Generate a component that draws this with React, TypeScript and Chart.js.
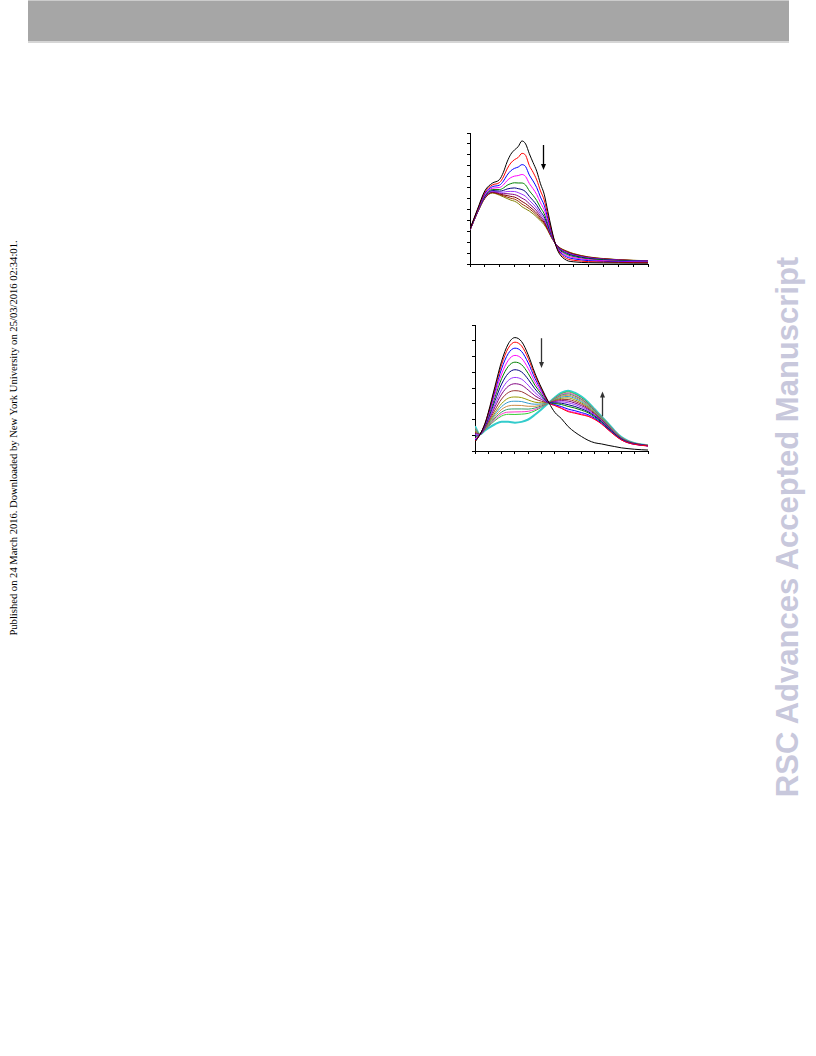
import React, { useEffect, useRef } from 'react';
import { Chart, registerables } from 'chart.js';

Chart.register(...registerables);

// ---------- Top panel (absorbance-like spectra, 11 traces) ----------
const topX = [0, 0.5, 1, 1.5, 2, 2.25, 2.5, 2.75, 3, 3.25, 3.5, 3.75, 4, 4.25, 4.5, 4.75, 5, 5.25, 5.5, 5.75, 6, 6.5, 7, 8, 9, 10, 11, 12];
const topBlack = [3.2, 5.0, 6.7, 7.4, 7.75, 8.4, 9.35, 10.05, 10.45, 10.75, 11.27, 11.0, 10.1, 9.3, 8.5, 7.35, 6.4, 4.8, 3.2, 1.85, 1.0, 0.35, 0.2, 0.12, 0.1, 0.09, 0.08, 0.08];
const topRed = [3.18, 4.94, 6.57, 7.23, 7.47, 7.97, 8.71, 9.25, 9.56, 9.76, 10.13, 9.95, 9.02, 8.41, 7.7, 6.7, 5.87, 4.47, 3.05, 1.86, 1.1, 0.51, 0.34, 0.22, 0.18, 0.15, 0.13, 0.12];
const topBlue = [3.16, 4.89, 6.45, 7.08, 7.23, 7.59, 8.14, 8.54, 8.76, 8.88, 9.1, 8.92, 8.15, 7.61, 6.99, 6.13, 5.39, 4.17, 2.91, 1.87, 1.2, 0.66, 0.47, 0.31, 0.24, 0.2, 0.17, 0.16];
const topMagenta = [3.15, 4.85, 6.34, 6.94, 7.01, 7.25, 7.64, 7.91, 8.05, 8.1, 8.2, 8.01, 7.37, 6.9, 6.36, 5.62, 4.97, 3.91, 2.79, 1.88, 1.28, 0.78, 0.58, 0.39, 0.3, 0.25, 0.21, 0.19];
const topGreen = [3.14, 4.81, 6.25, 6.82, 6.82, 6.96, 7.21, 7.36, 7.44, 7.42, 7.42, 7.23, 6.7, 6.29, 5.81, 5.17, 4.61, 3.68, 2.69, 1.88, 1.35, 0.89, 0.68, 0.46, 0.36, 0.29, 0.25, 0.22];
const topNavy = [3.13, 4.78, 6.18, 6.73, 6.68, 6.74, 6.87, 6.94, 6.97, 6.9, 6.82, 6.62, 6.19, 5.82, 5.39, 4.83, 4.33, 3.51, 2.61, 1.89, 1.41, 0.98, 0.76, 0.51, 0.4, 0.32, 0.27, 0.24];
const topViolet = [3.12, 4.76, 6.13, 6.67, 6.58, 6.58, 6.64, 6.65, 6.64, 6.54, 6.39, 6.2, 5.83, 5.49, 5.1, 4.6, 4.13, 3.38, 2.55, 1.89, 1.45, 1.04, 0.81, 0.55, 0.42, 0.34, 0.29, 0.26];
const topPurple = [3.11, 4.74, 6.09, 6.62, 6.49, 6.44, 6.44, 6.4, 6.36, 6.23, 6.03, 5.84, 5.52, 5.21, 4.85, 4.39, 3.96, 3.28, 2.5, 1.89, 1.48, 1.09, 0.85, 0.58, 0.45, 0.36, 0.31, 0.27];
const topMaroon = [3.11, 4.72, 6.06, 6.57, 6.42, 6.33, 6.27, 6.19, 6.13, 5.97, 5.73, 5.53, 5.26, 4.98, 4.64, 4.22, 3.82, 3.19, 2.46, 1.9, 1.51, 1.13, 0.89, 0.61, 0.47, 0.38, 0.32, 0.28];
const topBrown = [3.1, 4.71, 6.03, 6.54, 6.36, 6.24, 6.13, 6.02, 5.94, 5.76, 5.49, 5.29, 5.06, 4.79, 4.47, 4.09, 3.71, 3.12, 2.43, 1.9, 1.53, 1.17, 0.92, 0.63, 0.48, 0.39, 0.33, 0.29];
const topOlive = [3.1, 4.7, 6.0, 6.5, 6.3, 6.15, 6.0, 5.85, 5.75, 5.55, 5.25, 5.05, 4.85, 4.6, 4.3, 3.95, 3.6, 3.05, 2.4, 1.9, 1.55, 1.2, 0.95, 0.65, 0.5, 0.4, 0.34, 0.3];
const topSeries = [topBlack, topRed, topBlue, topMagenta, topGreen, topNavy, topViolet, topPurple, topMaroon, topBrown, topOlive];
const topColors = ['#000000', '#ff0000', '#0000ff', '#ff00ff', '#008000', '#000080', '#9933ff', '#800080', '#800000', '#993300', '#808000'];
const topArrows = [{ x: 4.94, from: 10.9, to: 8.6, color: '#000000' }];

// ---------- Bottom panel (16 traces, isosbestic point) ----------
const botX = [0, 0.375, 0.75, 1, 1.5, 2, 2.5, 3, 3.5, 4, 4.5, 5, 5.55, 6, 6.5, 7, 7.5, 8, 8.5, 9, 9.5, 10, 10.5, 11, 11.5, 12, 12.5, 13];
const botBlack = [0.56, 1.05, 1.75, 2.45, 4.1, 5.7, 6.8, 7.2, 6.95, 6.1, 4.95, 4.0, 3.07, 2.45, 2.05, 1.55, 1.2, 0.92, 0.68, 0.52, 0.45, 0.36, 0.28, 0.2, 0.15, 0.11, 0.08, 0.06];
const botRed = [0.61, 1.05, 1.73, 2.4, 3.97, 5.49, 6.53, 6.91, 6.67, 5.88, 4.81, 3.93, 3.07, 2.88, 2.7, 2.5, 2.4, 2.3, 2.2, 2.0, 1.72, 1.35, 1.0, 0.7, 0.52, 0.42, 0.36, 0.32];
const botBlue = [0.69, 1.05, 1.69, 2.33, 3.8, 5.22, 6.19, 6.53, 6.32, 5.59, 4.62, 3.83, 3.07, 2.94, 2.82, 2.66, 2.56, 2.44, 2.31, 2.08, 1.78, 1.4, 1.03, 0.72, 0.53, 0.43, 0.37, 0.33];
const botMagenta = [0.77, 1.05, 1.66, 2.24, 3.6, 4.89, 5.76, 6.07, 5.88, 5.24, 4.39, 3.72, 3.07, 2.9, 2.74, 2.55, 2.45, 2.35, 2.24, 2.03, 1.74, 1.37, 1.01, 0.71, 0.52, 0.42, 0.36, 0.32];
const botGreen = [0.85, 1.05, 1.62, 2.16, 3.41, 4.59, 5.37, 5.64, 5.48, 4.92, 4.18, 3.61, 3.07, 3.01, 2.95, 2.83, 2.73, 2.59, 2.43, 2.16, 1.84, 1.45, 1.07, 0.75, 0.55, 0.44, 0.38, 0.33];
const botNavy = [0.94, 1.05, 1.58, 2.07, 3.19, 4.25, 4.93, 5.16, 5.02, 4.55, 3.95, 3.49, 3.07, 3.05, 3.03, 2.94, 2.83, 2.68, 2.5, 2.22, 1.88, 1.48, 1.09, 0.76, 0.56, 0.45, 0.38, 0.33];
const botViolet = [1.03, 1.05, 1.54, 1.98, 2.97, 3.89, 4.48, 4.67, 4.56, 4.18, 3.71, 3.37, 3.07, 3.1, 3.12, 3.06, 2.95, 2.78, 2.58, 2.27, 1.92, 1.52, 1.12, 0.78, 0.57, 0.45, 0.39, 0.34];
const botPurple = [1.11, 1.05, 1.51, 1.91, 2.8, 3.61, 4.11, 4.27, 4.18, 3.87, 3.51, 3.27, 3.07, 3.14, 3.2, 3.17, 3.05, 2.88, 2.65, 2.33, 1.96, 1.55, 1.14, 0.79, 0.58, 0.46, 0.39, 0.34];
const botMaroon = [1.19, 1.05, 1.47, 1.83, 2.6, 3.3, 3.71, 3.83, 3.77, 3.54, 3.3, 3.16, 3.07, 3.18, 3.28, 3.27, 3.15, 2.97, 2.72, 2.38, 2.0, 1.58, 1.16, 0.8, 0.59, 0.47, 0.4, 0.34];
const botOlive = [1.27, 1.05, 1.44, 1.75, 2.43, 3.01, 3.35, 3.43, 3.39, 3.24, 3.1, 3.06, 3.07, 3.22, 3.35, 3.37, 3.25, 3.05, 2.79, 2.42, 2.03, 1.61, 1.18, 0.82, 0.6, 0.47, 0.4, 0.35];
const botSteel = [1.32, 1.05, 1.41, 1.7, 2.31, 2.82, 3.1, 3.16, 3.14, 3.03, 2.97, 2.99, 3.07, 3.25, 3.42, 3.46, 3.34, 3.13, 2.85, 2.47, 2.07, 1.64, 1.2, 0.83, 0.61, 0.48, 0.4, 0.35];
const botTan = [1.36, 1.05, 1.39, 1.65, 2.19, 2.64, 2.86, 2.9, 2.89, 2.84, 2.84, 2.93, 3.07, 3.29, 3.48, 3.54, 3.41, 3.2, 2.9, 2.51, 2.09, 1.66, 1.22, 0.84, 0.61, 0.48, 0.41, 0.35];
const botTeal = [1.41, 1.05, 1.37, 1.61, 2.09, 2.47, 2.65, 2.67, 2.67, 2.66, 2.73, 2.87, 3.07, 3.32, 3.54, 3.62, 3.49, 3.27, 2.96, 2.55, 2.12, 1.69, 1.24, 0.85, 0.62, 0.49, 0.41, 0.35];
const botPink = [1.44, 1.05, 1.36, 1.58, 2.0, 2.34, 2.47, 2.48, 2.49, 2.52, 2.63, 2.82, 3.07, 3.34, 3.59, 3.68, 3.56, 3.32, 3.0, 2.58, 2.15, 1.71, 1.25, 0.86, 0.63, 0.49, 0.41, 0.36];
const botLime = [1.47, 1.05, 1.34, 1.55, 1.93, 2.22, 2.33, 2.32, 2.34, 2.39, 2.55, 2.78, 3.07, 3.37, 3.64, 3.75, 3.62, 3.38, 3.05, 2.61, 2.17, 1.73, 1.26, 0.87, 0.63, 0.5, 0.42, 0.36];
const botCyan = [1.57, 1.05, 1.3, 1.45, 1.7, 1.85, 1.85, 1.8, 1.85, 2.0, 2.3, 2.65, 3.07, 3.4, 3.7, 3.83, 3.7, 3.45, 3.1, 2.65, 2.2, 1.75, 1.28, 0.88, 0.64, 0.5, 0.42, 0.36];
const botSeries = [botBlack, botRed, botBlue, botMagenta, botGreen, botNavy, botViolet, botPurple, botMaroon, botOlive, botSteel, botTan, botTeal, botPink, botLime, botCyan];
const botColors = ['#000000', '#ff0000', '#0000ff', '#ff00ff', '#008000', '#000080', '#9933ff', '#800080', '#993333', '#999900', '#3399cc', '#cc8844', '#339966', '#ff33cc', '#33cc33', '#33cccc'];
const botArrows = [
  { x: 4.95, from: 7.16, to: 5.27, color: '#333333' },
  { x: 9.55, from: 2.2, to: 3.78, color: '#333333' },
];

const HEADER_TEXT = 'Published on 24 March 2016. Downloaded by New York University on 25/03/2016 02:34:01.';
const WATERMARK = 'RSC Advances Accepted Manuscript';

const arrowPlugin = {
  id: 'arrows',
  afterDatasetsDraw(chart: any, _args: any, opts: any) {
    const items = (opts && opts.items) || [];
    const ctx = chart.ctx;
    const xs = chart.scales.x;
    const ys = chart.scales.y;
    items.forEach((a: any) => {
      const x = Math.round(xs.getPixelForValue(a.x)) + 0.5;
      const y0 = ys.getPixelForValue(a.from);
      const y1 = ys.getPixelForValue(a.to);
      const dir = y1 > y0 ? 1 : -1;
      ctx.save();
      ctx.strokeStyle = a.color;
      ctx.fillStyle = a.color;
      ctx.lineWidth = 1.3;
      ctx.beginPath();
      ctx.moveTo(x, y0);
      ctx.lineTo(x, y1 - dir * 5);
      ctx.stroke();
      ctx.beginPath();
      ctx.moveTo(x - 2.5, y1 - dir * 6);
      ctx.lineTo(x + 2.5, y1 - dir * 6);
      ctx.lineTo(x, y1);
      ctx.closePath();
      ctx.fill();
      ctx.restore();
    });
  },
};

function axis(max: number, isX: boolean) {
  return {
    type: 'linear',
    min: 0,
    max,
    ticks: { display: false, stepSize: 1 },
    grid: { display: true, drawOnChartArea: false, drawTicks: true, tickLength: 3, color: '#000000', lineWidth: 1 },
    border: { display: true, color: '#000000', width: 1 },
    afterFit: (s: any) => {
      if (isX) s.height = 0;
      else s.width = 0;
    },
  };
}

function SpectrumChart(props: any) {
  const { left, top, width, height, padding, xs, series, colors, widths, xMax, yMax, arrows } = props;
  const ref = useRef<HTMLCanvasElement | null>(null);
  useEffect(() => {
    if (!ref.current) return;
    const chart = new Chart(ref.current, {
      type: 'line',
      data: {
        datasets: series.map((s: number[], i: number) => ({
          data: s.map((v, j) => ({ x: xs[j], y: v })),
          borderColor: colors[i],
          borderWidth: widths[i],
          pointRadius: 0,
          fill: false,
          cubicInterpolationMode: 'monotone',
        })),
      },
      options: {
        responsive: false,
        maintainAspectRatio: false,
        animation: false,
        layout: { padding },
        plugins: {
          legend: { display: false },
          tooltip: { enabled: false },
          arrows: { items: arrows },
        },
        scales: {
          x: axis(xMax, true),
          y: axis(yMax, false),
        },
      } as any,
      plugins: [arrowPlugin],
    } as any);
    return () => chart.destroy();
  }, []);
  return (
    <canvas
      ref={ref}
      width={width}
      height={height}
      style={{ position: 'absolute', left, top, width, height }}
    />
  );
}

export default function App() {
  return (
    <div style={{ position: 'absolute', left: 0, top: 0, width: 816, height: 1056, background: '#ffffff', overflow: 'hidden' }}>
      <div
        style={{
          position: 'absolute',
          left: 28,
          top: 0,
          width: 761,
          height: 43,
          background: '#a6a6a6',
          borderTop: '1px solid #cccccc',
          borderBottom: '2px solid #d6d6d6',
          boxSizing: 'border-box',
        }}
      />
      <div
        style={{
          position: 'absolute',
          left: 13.5,
          top: 438,
          transform: 'translate(-50%, -50%) rotate(-90deg)',
          whiteSpace: 'nowrap',
          fontFamily: '"Liberation Serif", "Times New Roman", serif',
          fontSize: 10.6,
          lineHeight: 1,
          color: '#000000',
        }}
      >
        {HEADER_TEXT}
      </div>
      <div
        style={{
          position: 'absolute',
          left: 787,
          top: 527,
          transform: 'translate(-50%, -50%) rotate(-90deg)',
          whiteSpace: 'nowrap',
          fontFamily: '"Liberation Sans", Arial, sans-serif',
          fontWeight: 'bold',
          fontSize: 31,
          lineHeight: 1,
          color: '#c8c8dc',
        }}
      >
        {WATERMARK}
      </div>
      <SpectrumChart
        left={460}
        top={123}
        width={200}
        height={152}
        padding={{ left: 10, top: 10, right: 12, bottom: 11 }}
        xs={topX}
        series={topSeries}
        colors={topColors}
        widths={topSeries.map(() => 1)}
        xMax={12}
        yMax={12}
        arrows={topArrows}
      />
      <SpectrumChart
        left={465}
        top={315}
        width={195}
        height={150}
        padding={{ left: 10, top: 10, right: 12, bottom: 14 }}
        xs={botX}
        series={botSeries}
        colors={botColors}
        widths={botSeries.map((_, i) => (i === botSeries.length - 1 ? 2 : 1))}
        xMax={13}
        yMax={8}
        arrows={botArrows}
      />
    </div>
  );
}
